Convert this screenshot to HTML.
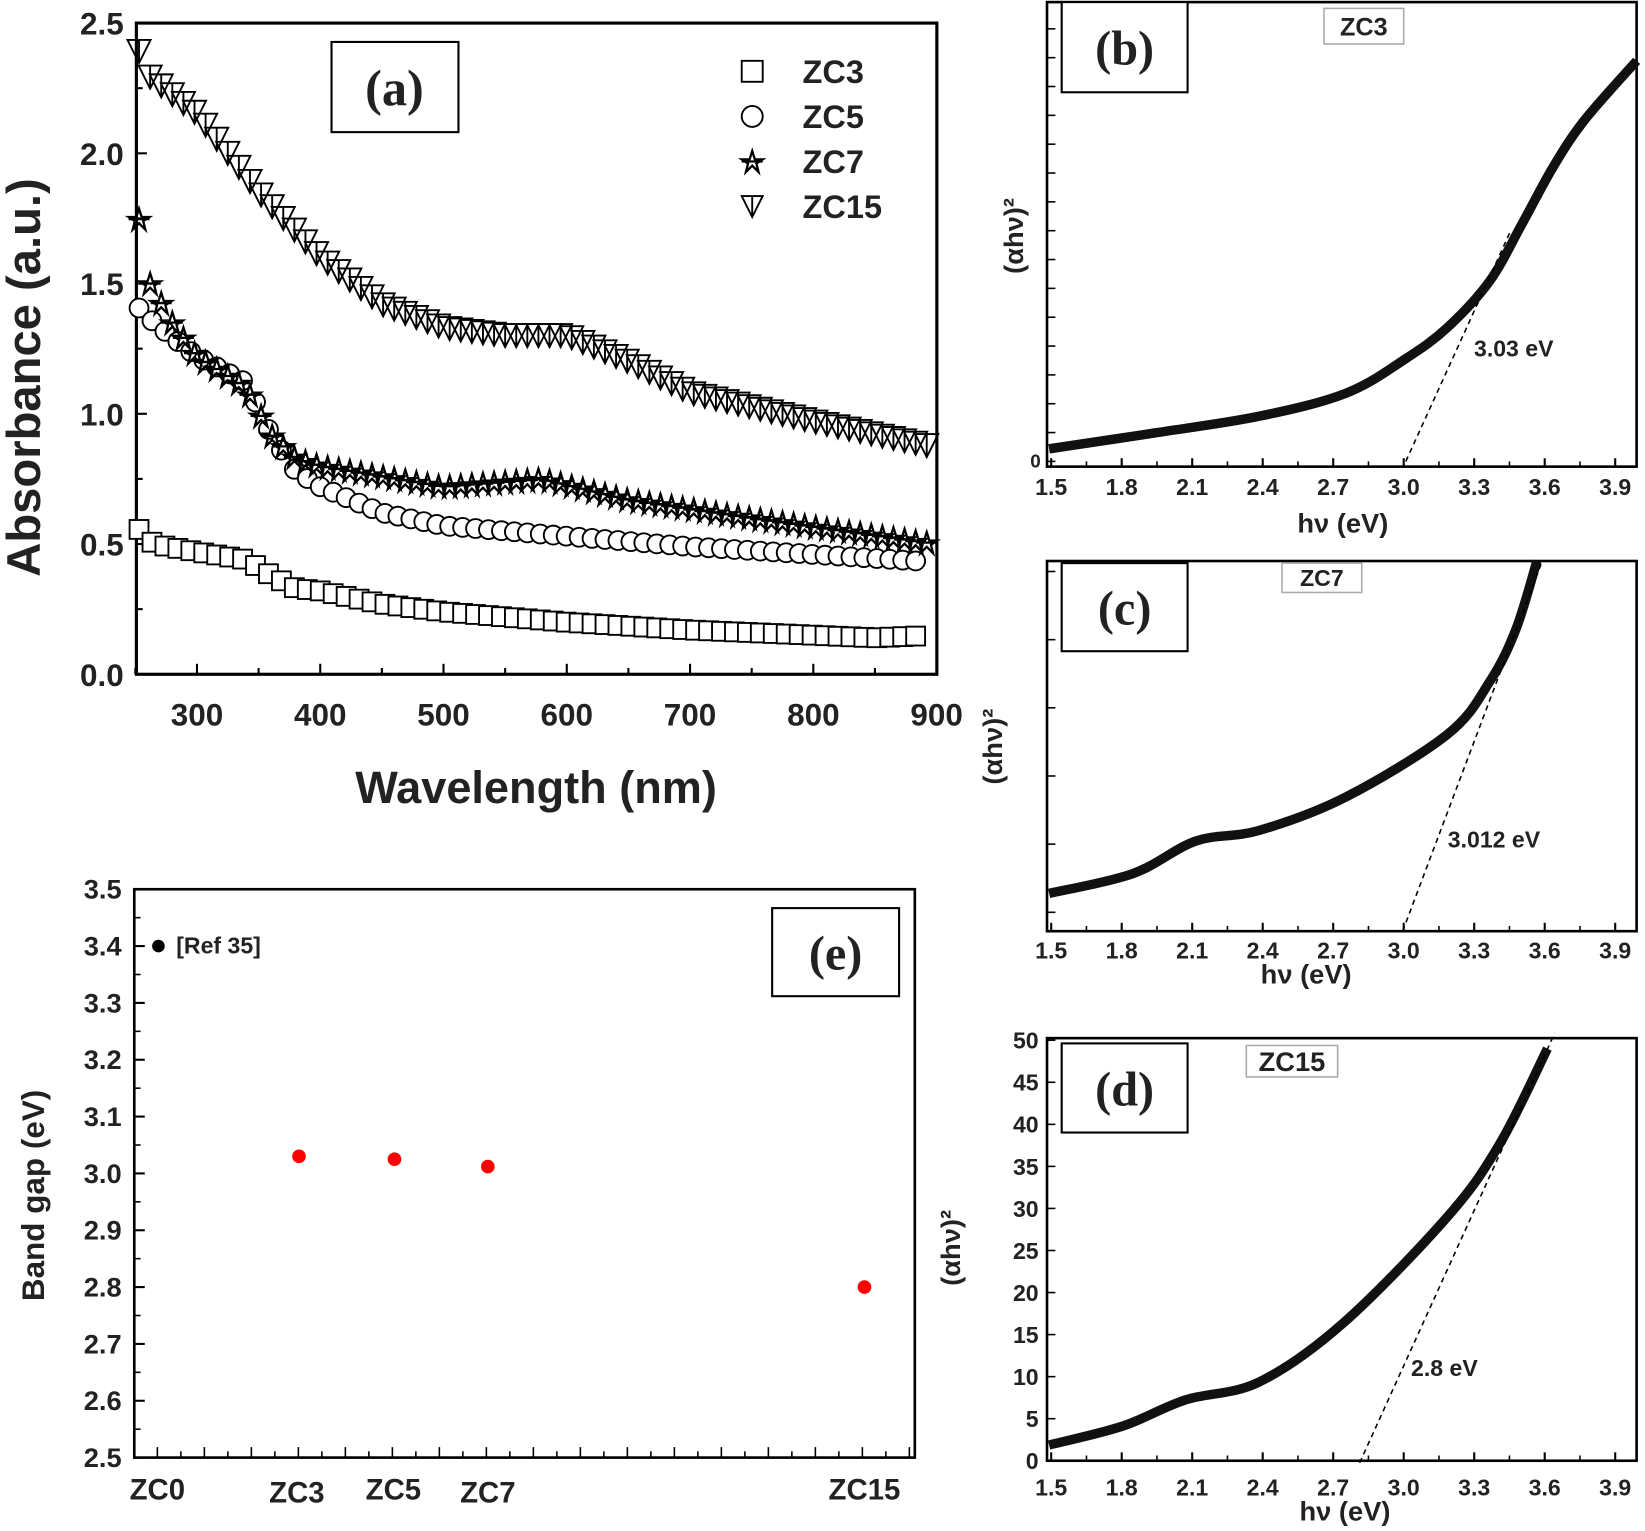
<!DOCTYPE html>
<html><head><meta charset="utf-8">
<style>
html,body{margin:0;padding:0;background:#fff;}
svg{display:block;}
text{font-family:"Liberation Sans",sans-serif;font-weight:bold;fill:#222;}
.ser{font-family:"Liberation Serif",serif;}
</style></head>
<body>
<svg id="s" width="1645" height="1531" viewBox="0 0 1568 1460" preserveAspectRatio="none" xmlns="http://www.w3.org/2000/svg">
<rect width="1568" height="1460" fill="#fff"/>
<g id="g"></g>
</svg>
<script>
const NS="http://www.w3.org/2000/svg",G=document.getElementById('g');
function el(t,a,txt){const e=document.createElementNS(NS,t);for(const k in a)e.setAttribute(k,a[k]);if(txt!==undefined)e.textContent=txt;G.appendChild(e);return e;}
function interp(pts,x){for(let i=0;i<pts.length-1;i++){if(x>=pts[i][0]&&x<=pts[i+1][0]){const t=(x-pts[i][0])/(pts[i+1][0]-pts[i][0]);return pts[i][1]+t*(pts[i+1][1]-pts[i][1]);}}return pts[pts.length-1][1];}
function smooth(p){let d=`M${p[0][0]} ${p[0][1]}`;for(let i=0;i<p.length-1;i++){const p0=p[i-1]||p[i],p1=p[i],p2=p[i+1],p3=p[i+2]||p2;d+=` C${p1[0]+(p2[0]-p0[0])/6} ${p1[1]+(p2[1]-p0[1])/6} ${p2[0]-(p3[0]-p1[0])/6} ${p2[1]-(p3[1]-p1[1])/6} ${p2[0]} ${p2[1]}`;}return d;}
// ===== Panel (a)
const ax=w=>129+(w-250)*1.175, ay=v=>643-v*248.4;
el('rect',{x:130,y:22,width:763,height:621,fill:'none',stroke:'#000','stroke-width':3});
for(let v=0;v<=2.5;v+=0.25){const y=ay(v);const big=Math.abs(v*2-Math.round(v*2))<1e-6;el('line',{x1:130,y1:y,x2:130+(big?10:6),y2:y,stroke:'#000','stroke-width':2});if(big)el('text',{x:118,y:y+11,'font-size':30,'text-anchor':'end'},v.toFixed(1));}
for(let w=250;w<=900;w+=50){const x=ax(w);const big=w%100==0;el('line',{x1:x,y1:643,x2:x,y2:643-(big?10:6),stroke:'#000','stroke-width':2});if(big)el('text',{x:x,y:692,'font-size':30,'text-anchor':'middle'},w);}
el('text',{x:511,y:766,'font-size':43,'text-anchor':'middle'},'Wavelength (nm)');
el('text',{x:38,y:360,'font-size':45,'text-anchor':'middle',transform:'rotate(-90 38 360)'},'Absorbance (a.u.)');
el('rect',{x:316,y:40,width:121,height:86,fill:'#fff',stroke:'#000','stroke-width':2});
el('text',{x:376,y:100,'font-size':48,'text-anchor':'middle',class:'ser'},'(a)');
const S={
zc15:[[250,2.43],[260,2.3],[300,2.15],[350,1.85],[400,1.6],[450,1.42],[500,1.33],[550,1.3],[600,1.3],[650,1.2],[700,1.08],[800,0.97],[900,0.87]],
zc7:[[250,1.83],[262,1.5],[280,1.35],[300,1.22],[340,1.1],[360,0.92],[380,0.83],[400,0.8],[500,0.72],[580,0.75],[650,0.67],[750,0.6],[900,0.5]],
zc5:[[250,1.42],[265,1.35],[300,1.22],[340,1.12],[360,0.92],[380,0.78],[400,0.72],[450,0.62],[500,0.57],[600,0.53],[700,0.49],[800,0.46],[900,0.43]],
zc3:[[250,0.57],[265,0.5],[300,0.47],[340,0.44],[360,0.38],[380,0.33],[400,0.32],[450,0.27],[500,0.24],[600,0.2],[700,0.17],[800,0.15],[850,0.14],[900,0.15]]};
function mk(type,x,y,s){s=s||8;
 if(type=='sq')el('rect',{x:x-s,y:y-s,width:2*s,height:2*s,fill:'#fff',stroke:'#000','stroke-width':1.8});
 else if(type=='ci')el('circle',{cx:x,cy:y,r:s,fill:'#fff',stroke:'#000','stroke-width':1.8});
 else if(type=='tri')el('path',{d:`M${x-s} ${y-s}L${x+s} ${y-s}L${x} ${y+s}Z M${x} ${y-s}V${y+s}`,fill:'none',stroke:'#000','stroke-width':1.8});
 else el('path',{d:`M${x} ${y-s}L${x+2.5} ${y-2}L${x+s} ${y-2}L${x+4} ${y+2}L${x+6} ${y+s}L${x} ${y+4}L${x-6} ${y+s}L${x-4} ${y+2}L${x-s} ${y-2}L${x-2.5} ${y-2}Z M${x-s} ${y}H${x+s}`,fill:'none',stroke:'#000','stroke-width':2.2});}
for(let w=253;w<=893;w+=10.5){mk('sq',ax(w),ay(interp(S.zc3,w)),9);}
for(let w=253;w<=893;w+=10.5){mk('ci',ax(w),ay(interp(S.zc5,w)),9);}
for(let w=253;w<=893;w+=9){mk('st',ax(w),ay(interp(S.zc7,w)),10);}
for(let w=253;w<=893;w+=9){mk('tri',ax(w),ay(interp(S.zc15,w)),11);}
[['sq','ZC3',68],['ci','ZC5',111],['st','ZC7',154],['tri','ZC15',197]].forEach(([t,n,y])=>{mk(t,717,y,10);el('text',{x:765,y:y+11,'font-size':31},n);});
// ===== hv panels
function hvAxes(y0,y1,labelY,yticks){
 el('rect',{x:998,y:y0,width:562,height:y1-y0,fill:'none',stroke:'#000','stroke-width':2.5});
 const xs=[1.5,1.8,2.1,2.4,2.7,3.0,3.3,3.6,3.9];
 xs.forEach(v=>{const x=1002+(v-1.5)*224;el('line',{x1:x,y1:y1,x2:x,y2:y1-8,stroke:'#000','stroke-width':2});el('text',{x:x,y:labelY,'font-size':22,'text-anchor':'middle'},v.toFixed(1));});
 for(let v=1.65;v<3.9;v+=0.3){const x=1002+(v-1.5)*224;el('line',{x1:x,y1:y1,x2:x,y2:y1-5,stroke:'#000','stroke-width':1.5});}
 yticks.forEach(y=>el('line',{x1:998,y1:y,x2:1006,y2:y,stroke:'#000','stroke-width':1.5}));}
function curve(p){el('path',{d:smooth(p),fill:'none',stroke:'#111','stroke-width':9,'stroke-linejoin':'round'});}
function dash(a,b,c,d){el('line',{x1:a,y1:b,x2:c,y2:d,stroke:'#000','stroke-width':1.5,'stroke-dasharray':'5,4'});}
function box(x,y,w,h,t,fs,serif){el('rect',{x:x,y:y,width:w,height:h,fill:'#fff',stroke:serif?'#000':'#aaa','stroke-width':serif?2:1.5});el('text',{x:x+w/2,y:y+h/2+fs*0.36,'font-size':fs,'text-anchor':'middle',class:serif?'ser':''},t);}
// (b)
let bt=[];for(let y=440;y>5;y-=27.5)bt.push(y);
hvAxes(2,445,472,bt);
el('text',{x:992,y:446,'font-size':18,'text-anchor':'end'},'0');
curve([[1000,428],[1100,413],[1200,397],[1283,375],[1340,342],[1380,312],[1420,268],[1450,215],[1480,160],[1510,115],[1560,58]]);
dash(1340,440,1440,220);
el('text',{x:1405,y:340,'font-size':22},'3.03 eV');
el('text',{x:1280,y:508,'font-size':26,'text-anchor':'middle'},'hν (eV)');
el('text',{x:975,y:225,'font-size':26,'text-anchor':'middle',transform:'rotate(-90 975 225)'},'(αhν)²');
box(1262,8,76,34,'ZC3',24,false);
box(1012,2,120,86,'(b)',46,true);
// (c)
hvAxes(535,888,914,[870,805,740,675,610,545]);
curve([[1000,852],[1080,833],[1140,802],[1200,792],[1283,760],[1380,700],[1420,650],[1445,600],[1465,535]]);
dash(1337,888,1470,535);
el('text',{x:1380,y:808,'font-size':22},'3.012 eV');
el('text',{x:1245,y:938,'font-size':26,'text-anchor':'middle'},'hν (eV)');
el('text',{x:955,y:712,'font-size':26,'text-anchor':'middle',transform:'rotate(-90 955 712)'},'(αhν)²');
box(1222,537,76,28,'ZC7',22,false);
box(1012,537,120,84,'(c)',46,true);
// (d)
let dt=[];for(let v=0;v<=50;v+=5)dt.push(1393-v*8.02);
hvAxes(990,1393,1426,dt);
for(let v=0;v<=50;v+=5){el('text',{x:990,y:1393-v*8.02+8,'font-size':22,'text-anchor':'end'},v);}
curve([[1000,1378],[1070,1360],[1130,1335],[1200,1318],[1280,1262],[1380,1160],[1430,1090],[1475,1000]]);
dash(1296,1395,1482,985);
el('text',{x:1345,y:1312,'font-size':22},'2.8 eV');
el('text',{x:1282,y:1450,'font-size':26,'text-anchor':'middle'},'hν (eV)');
el('text',{x:915,y:1190,'font-size':26,'text-anchor':'middle',transform:'rotate(-90 915 1190)'},'(αhν)²');
box(1188,997,87,30,'ZC15',26,false);
box(1012,995,120,85,'(d)',46,true);
// ===== (e)
const ey=v=>848+(3.5-v)*542;
el('rect',{x:128,y:848,width:744,height:542,fill:'none',stroke:'#000','stroke-width':2.5});
for(let v=2.5;v<=3.5001;v+=0.1){const y=ey(v);el('line',{x1:128,y1:y,x2:138,y2:y,stroke:'#000','stroke-width':2});el('text',{x:116,y:y+9,'font-size':26,'text-anchor':'end'},v.toFixed(1));}
for(let v=2.55;v<3.5;v+=0.1){const y=ey(v);el('line',{x1:128,y1:y,x2:134,y2:y,stroke:'#000','stroke-width':1.5});}
for(let i=0;i<=32;i++){const x=150+i*22.4;if(x>870)break;const big=i%2==0;el('line',{x1:x,y1:1390,x2:x,y2:1390-(big?10:6),stroke:'#000','stroke-width':1.5});}
[['ZC0',150],['ZC3',283],['ZC5',375],['ZC7',465],['ZC15',824]].forEach(([n,x],i)=>el('text',{x:x,y:i%2?1433:1430,'font-size':28,'text-anchor':'middle'},n));
el('text',{x:42,y:1140,'font-size':30,'text-anchor':'middle',transform:'rotate(-90 42 1140)'},'Band gap (eV)');
el('circle',{cx:151,cy:ey(3.4),r:6,fill:'#000'});
el('text',{x:168,y:ey(3.4)+7,'font-size':22},'[Ref 35]');
[[285,3.03],[376,3.025],[465,3.012],[824,2.8]].forEach(([x,v])=>el('circle',{cx:x,cy:ey(v),r:6.5,fill:'#f00'}));
box(736,866,121,84,'(e)',46,true);
</script>
</body></html>
